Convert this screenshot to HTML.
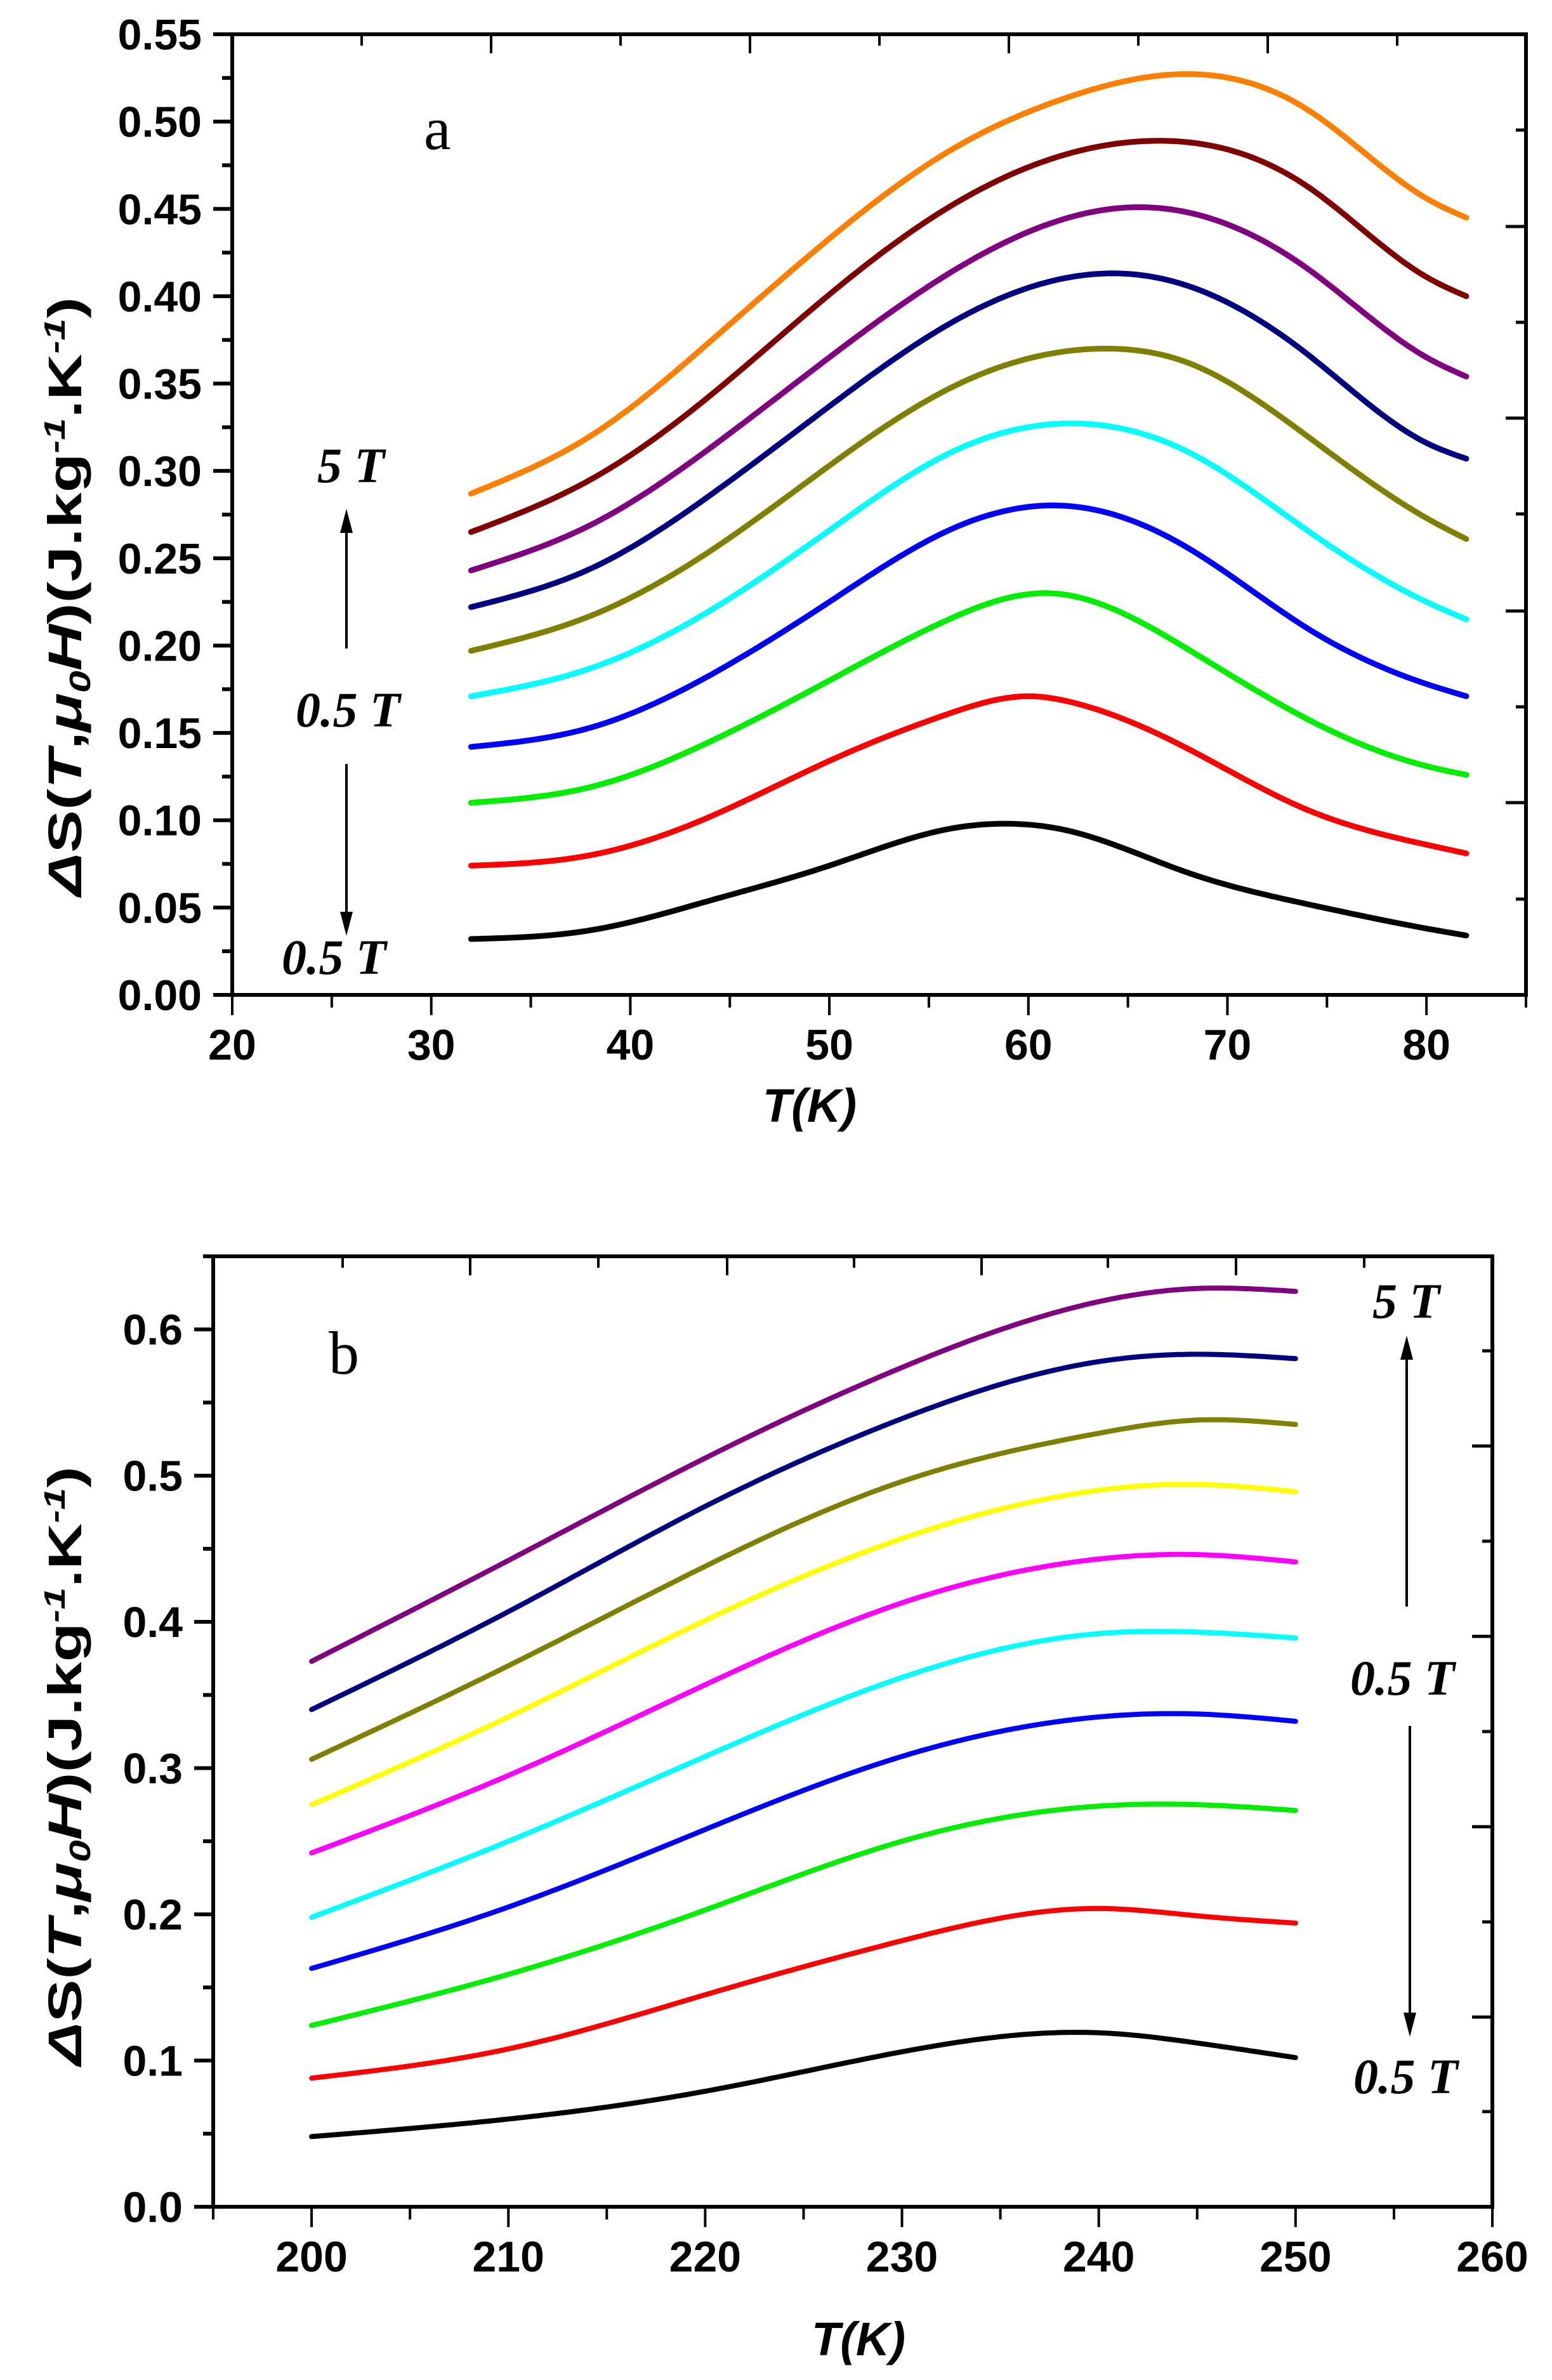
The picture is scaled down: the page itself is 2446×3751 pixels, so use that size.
<!DOCTYPE html>
<html><head><meta charset="utf-8"><style>
html,body{margin:0;padding:0;background:#fff}
svg{display:block}
.tk{font-family:"Liberation Sans",sans-serif;font-weight:bold;font-size:68px;fill:#000}
.at{font-family:"Liberation Sans",sans-serif;font-weight:bold;font-style:italic;font-size:74px;fill:#000}
.an{font-family:"Liberation Serif",serif;font-weight:bold;font-style:italic;font-size:78px;fill:#000}
.pl{font-family:"Liberation Serif",serif;font-size:96px;fill:#000}
</style></head><body>
<svg id="fig" width="2446" height="3751" viewBox="0 0 2446 3751" xmlns="http://www.w3.org/2000/svg">
<g id="pa"></g>
<g id="pb"></g>
</svg>
<script>
// ---- Panel a data ----
const aColors = ["#000000","#ff0000","#00ee00","#0000ff","#00ffff","#808000","#000080","#800080","#800000","#ff8000"];
const aT0=[32,38,44,50,56,58.9,62,68,74,80,82];
const aBlack=[0.032,0.037,0.054,0.074,0.095,0.098,0.094,0.070,0.052,0.038,0.034];
const aT1=[32,38,44,50,56,60.1,62,68,74,80,82];
const aRed=[0.074,0.080,0.102,0.134,0.161,0.171,0.168,0.141,0.106,0.086,0.081];
const aT2=[32,38,44,50,56,61,68,74,80,82];
const aGreen=[0.110,0.119,0.145,0.180,0.215,0.230,0.198,0.158,0.131,0.126];
const aT3=[32,38,44,50,56,61.9,68,74,80,82];
const aBlue=[0.142,0.153,0.183,0.225,0.266,0.280,0.256,0.210,0.178,0.171];
const aT4=[32,38,44,50,56,62.8,68,74,80,82];
const aCyan=[0.171,0.187,0.220,0.266,0.310,0.327,0.311,0.266,0.225,0.215];
const aT5=[32,38,44,50,56,63.8,68,74,80,82];
const aOlive=[0.197,0.217,0.254,0.303,0.347,0.370,0.362,0.320,0.273,0.261];
const aT6=[32,38,44,50,56,64.7,68,74,80,82];
const aNavy=[0.222,0.244,0.286,0.337,0.384,0.413,0.406,0.367,0.316,0.307];
const aT7=[32,38,44,50,56,65.6,74,80,82];
const aPurple=[0.243,0.269,0.313,0.365,0.413,0.451,0.416,0.365,0.354];
const aT8=[32,38,44,50,56,66.4,74,80,82];
const aMaroon=[0.265,0.295,0.343,0.401,0.451,0.489,0.463,0.411,0.400];
const aT9=[32,38,44,50,56,62,67.3,74,80,82];
const aOrange=[0.287,0.320,0.374,0.433,0.483,0.514,0.527,0.507,0.456,0.445];
const aXTicks=[20,30,40,50,60,70,80];
const aYTicks=["0.00","0.05","0.10","0.15","0.20","0.25","0.30","0.35","0.40","0.45","0.50","0.55"];

// ---- Panel b data ----
const bColors=["#000000","#ff0000","#00ee00","#0000ff","#00ffff","#ff00ff","#ffff00","#808000","#000080","#800080"];
const bT=[200,210,220,230,240,245,250];
const bBlack=[0.048,0.060,0.079,0.106,0.119,0.112,0.102];
const bRed=[0.088,0.108,0.145,0.182,0.204,0.199,0.194];
const bGreen=[0.124,0.159,0.203,0.250,0.274,0.275,0.271];
const bBlue=[0.163,0.205,0.258,0.308,0.335,0.337,0.332];
const bCyan=[0.198,0.250,0.308,0.362,0.392,0.393,0.389];
const bMagenta=[0.242,0.295,0.357,0.413,0.443,0.446,0.441];
const bYellow=[0.275,0.335,0.401,0.457,0.490,0.494,0.489];
const bOlive=[0.306,0.370,0.438,0.496,0.529,0.538,0.535];
const bNavy=[0.340,0.407,0.479,0.539,0.578,0.583,0.580];
const bPurple=[0.373,0.442,0.512,0.574,0.619,0.628,0.626];
const bXTicks=[200,210,220,230,240,250,260];
const bYTicks=["0.0","0.1","0.2","0.3","0.4","0.5","0.6"];

const NS="http://www.w3.org/2000/svg";
function mk(parent,tag,attrs,txt){const e=document.createElementNS(NS,tag);for(const k in attrs)e.setAttribute(k,attrs[k]);if(txt!==undefined)e.textContent=txt;parent.appendChild(e);return e;}
// natural cubic spline through data, sampled densely
function spline(xs,ys){const n=xs.length,h=[],al=[],l=[1],mu=[0],z=[0],c=new Array(n).fill(0);
  for(let i=0;i<n-1;i++)h.push(xs[i+1]-xs[i]);
  for(let i=1;i<n-1;i++)al[i]=3/h[i]*(ys[i+1]-ys[i])-3/h[i-1]*(ys[i]-ys[i-1]);
  for(let i=1;i<n-1;i++){l[i]=2*(xs[i+1]-xs[i-1])-h[i-1]*mu[i-1];mu[i]=h[i]/l[i];z[i]=(al[i]-h[i-1]*z[i-1])/l[i];}
  l[n-1]=1;z[n-1]=0;const b=[],d=[];
  for(let j=n-2;j>=0;j--){c[j]=z[j]-mu[j]*c[j+1];b[j]=(ys[j+1]-ys[j])/h[j]-h[j]*(c[j+1]+2*c[j])/3;d[j]=(c[j+1]-c[j])/(3*h[j]);}
  return x=>{let j=0;while(j<n-2&&x>xs[j+1])j++;const t=x-xs[j];return ys[j]+b[j]*t+c[j]*t*t+d[j]*t*t*t;};}

function panel(g,o){
  const X=v=>o.x0+(v-o.xmin)/(o.xmax-o.xmin)*(o.x1-o.x0);
  const Y=v=>o.y1-(v-o.ymin)/(o.ymax-o.ymin)*(o.y1-o.y0);
  o.series.forEach((s,i)=>{
    const f=spline(s.t,s.v),t0=s.t[0],t1=s.t[s.t.length-1],N=200;let d="";
    for(let k=0;k<=N;k++){const t=t0+(t1-t0)*k/N;d+=(k?"L":"M")+X(t).toFixed(1)+","+Y(f(t)).toFixed(1);}
    const p=mk(g,"path",{d:d,fill:"none",stroke:o.colors[i],"stroke-width":o.lw,"stroke-linecap":"round","stroke-linejoin":"round"});
    
    
  });
  const f=mk(g,"rect",{x:o.x0,y:o.y0,width:o.x1-o.x0,height:o.y1-o.y0,fill:"none",stroke:"#000","stroke-width":6});
  
  
  const xt=mk(g,"g",{});
  
  
  for(let v=o.xmin;v<=o.xmax+1e-6;v+=o.xstep/2){const maj=Math.abs(((v-o.xticks[0])/o.xstep)-Math.round((v-o.xticks[0])/o.xstep))<1e-6;
    mk(xt,"line",{x1:X(v),x2:X(v),y1:o.y1,y2:o.y1+(maj?32:20),stroke:"#000","stroke-width":4});}
  o.xticks.forEach(v=>{const t=mk(xt,"text",{x:X(v),y:o.xlabY,"text-anchor":"middle",class:"tk"},String(v));
    
    });
  const yt=mk(g,"g",{});
  
  
  for(let v=o.ymin;v<=o.ymax+1e-6;v+=o.ystep/2){const maj=Math.abs(v/o.ystep-Math.round(v/o.ystep))<1e-6;
    mk(yt,"line",{x1:o.x0,x2:o.x0-(maj?30:16),y1:Y(v),y2:Y(v),stroke:"#000","stroke-width":6});}
  o.yticks.forEach(s=>{const t=mk(yt,"text",{x:o.x0-48,y:Y(parseFloat(s))+24,"text-anchor":"end",class:"tk"},s);
    
    });
  o.topT.forEach((x,i)=>mk(g,"line",{x1:x,x2:x,y1:o.y0,y2:o.y0+(i%2?30:18),stroke:"#000","stroke-width":4}));
  o.rightT.forEach((y,i)=>mk(g,"line",{x1:o.x1,x2:o.x1-(i%2?32:16),y1:y,y2:y,stroke:"#000","stroke-width":5}));
  const xa=mk(g,"text",{x:o.xtX,y:o.xtY,"text-anchor":"middle",class:"at"},"T(K)");
  
  
  const ya=mk(g,"text",{transform:"translate("+(o.ytX)+","+o.ytY+") rotate(-90)","text-anchor":"middle",class:"at",style:"font-style:normal",textLength:o.ytLen,lengthAdjust:"spacingAndGlyphs"});
  
  
  ya.innerHTML='<tspan font-style="italic">Δ</tspan>S(<tspan font-style="italic">T</tspan>,<tspan font-style="italic">μ</tspan><tspan font-size="46" dy="14" font-style="italic">0</tspan><tspan dy="-14" font-style="italic">H</tspan>)(J.kg<tspan font-size="46" dy="-26" font-style="italic">-1</tspan><tspan dy="26">.K</tspan><tspan font-size="46" dy="-26" font-style="italic">-1</tspan><tspan dy="26">)</tspan>';
}

function arrow(g,x,y1,y2,name){
  const a=mk(g,"g",{});
  
  
  const dir=y2<y1?-1:1;
  mk(a,"line",{x1:x,x2:x,y1:y1,y2:y2-dir*34,stroke:"#000","stroke-width":4});
  mk(a,"polygon",{points:(x-10)+","+(y2-dir*38)+" "+(x+10)+","+(y2-dir*38)+" "+x+","+y2,fill:"#000"});
}
function label(g,x,y,cls,txt,name){const t=mk(g,"text",{x:x,y:y,class:cls},txt);
  
  }

const ga=document.getElementById("pa");
panel(ga,{x0:366,x1:2405,y0:54,y1:1568,xmin:20,xmax:85,ymin:0,ymax:0.55,xstep:10,ystep:0.05,lw:9,
 colors:aColors,xticks:aXTicks,yticks:aYTicks,xlabY:1670,xtX:1276,xtY:1768,ytX:128,ytY:940,ytLen:944,
 topT:[570,774,978,1182,1386,1590,1794,1998,2202],rightT:[205,357,508,659,810,963,1114,1265,1417],
 series:[{name:"0.5T",t:aT0,v:aBlack},{name:"1T",t:aT1,v:aRed},{name:"1.5T",t:aT2,v:aGreen},{name:"2T",t:aT3,v:aBlue},{name:"2.5T",t:aT4,v:aCyan},{name:"3T",t:aT5,v:aOlive},{name:"3.5T",t:aT6,v:aNavy},{name:"4T",t:aT7,v:aPurple},{name:"4.5T",t:aT8,v:aMaroon},{name:"5T",t:aT9,v:aOrange}]});
label(ga,668,235,"pl","a","panel-a-label");
label(ga,500,760,"an","5 T","annot-5T");
arrow(ga,546,1022,802,"arrow-up");
label(ga,466,1145,"an","0.5 T","annot-0.5T-mid");
arrow(ga,546,1204,1475,"arrow-down");
label(ga,444,1535,"an","0.5 T","annot-0.5T-bottom");

const gb=document.getElementById("pb");
panel(gb,{x0:336,x1:2352,y0:1980,y1:3478,xmin:195,xmax:260,ymin:0,ymax:0.65,xstep:10,ystep:0.1,lw:8,
 colors:bColors,xticks:bXTicks,yticks:bYTicks,xlabY:3580,xtX:1353,xtY:3712,ytX:128,ytY:2783,ytLen:944,
 topT:[540,741,943,1146,1346,1547,1746,1948,2150],rightT:[2129,2279,2429,2579,2729,2879,3029,3179,3328],
 series:[{name:"0.5T",t:bT,v:bBlack},{name:"1T",t:bT,v:bRed},{name:"1.5T",t:bT,v:bGreen},{name:"2T",t:bT,v:bBlue},{name:"2.5T",t:bT,v:bCyan},{name:"3T",t:bT,v:bMagenta},{name:"3.5T",t:bT,v:bYellow},{name:"4T",t:bT,v:bOlive},{name:"4.5T",t:bT,v:bNavy},{name:"5T",t:bT,v:bPurple}]});
label(gb,518,2165,"pl","b","panel-b-label");
label(gb,2163,2077,"an","5 T","annot-5T-b");
arrow(gb,2217,2532,2105,"arrow-up-b");
label(gb,2128,2671,"an","0.5 T","annot-0.5T-mid-b");
arrow(gb,2222,2720,3210,"arrow-down-b");
label(gb,2133,3299,"an","0.5 T","annot-0.5T-bottom-b");
</script>
</body></html>
